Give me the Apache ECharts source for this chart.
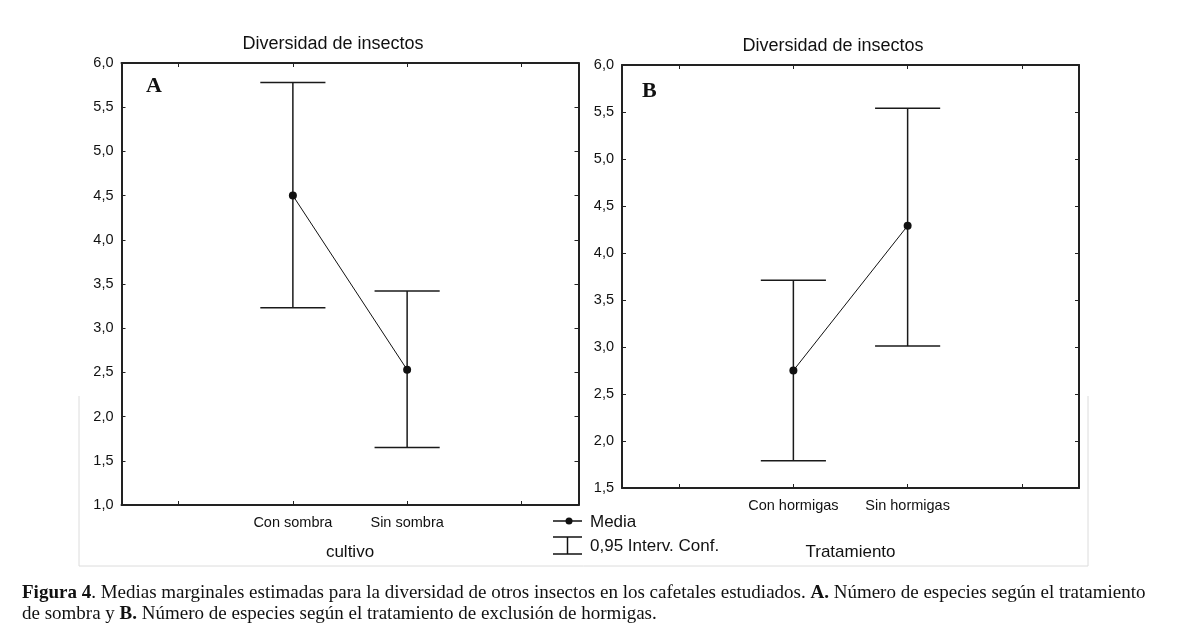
<!DOCTYPE html>
<html>
<head>
<meta charset="utf-8">
<script src="https://cdn.jsdelivr.net/npm/echarts@6/dist/echarts.min.js"></script>
<style>
html,body{margin:0;padding:0;background:#fff;}
#chart{width:1200px;height:630px;}
</style>
</head>
<body>
<div id="chart"></div>
<script>
// ---- data ----
const catsA = ['', 'Con sombra', 'Sin sombra', ''];
const meanA = ['-', 4.5, 2.53, '-'];
const lowA = [3.23, 1.65];
const highA = [5.78, 3.42];

const catsB = ['', 'Con hormigas', 'Sin hormigas', ''];
const meanB = ['-', 2.75, 4.29, '-'];
const lowB = [1.79, 3.01];
const highB = [3.71, 5.54];

const panelTitle = 'Diversidad de insectos';
const xNameA = 'cultivo';
const xNameB = 'Tratamiento';
const legendMean = 'Media';
const legendCI = '0,95 Interv. Conf.';
const caption1 = '{b|Figura 4}. Medias marginales estimadas para la diversidad de otros insectos en los cafetales estudiados. {b|A.} Número de especies según el tratamiento';
const caption2 = 'de sombra y {b|B.} Número de especies según el tratamiento de exclusión de hormigas.';

// ---- helpers ----
const SANS = "'Liberation Sans', Arial, sans-serif";
const SERIF = "'Liberation Serif', 'Times New Roman', serif";
const AX = '#222';
const TXT = '#111';
const fmt = v => v.toFixed(1).replace('.', ',');

function errData(low, high) {
  return low.map((l, i) => [i + 1, l, high[i]]);
}
function renderErr(params, api) {
  const x = api.value(0);
  const lo = api.coord([x, api.value(1)]);
  const hi = api.coord([x, api.value(2)]);
  const half = api.size([1, 0])[0] * 0.285;
  const st = { stroke: '#1a1a1a', lineWidth: 1.5 };
  return {
    type: 'group',
    children: [
      { type: 'line', shape: { x1: hi[0], y1: hi[1], x2: lo[0], y2: lo[1] }, style: st },
      { type: 'line', shape: { x1: hi[0] - half, y1: hi[1], x2: hi[0] + half, y2: hi[1] }, style: st },
      { type: 'line', shape: { x1: lo[0] - half, y1: lo[1], x2: lo[0] + half, y2: lo[1] }, style: st }
    ]
  };
}
function xAxes(cats, gi, name, gap) {
  return [
    {
      type: 'category', gridIndex: gi, data: cats, position: 'bottom',
      axisLine: { show: true, onZero: false, lineStyle: { color: AX, width: 2 } },
      axisTick: { show: true, inside: true, alignWithLabel: true, interval: 0, length: 4, lineStyle: { color: AX } },
      axisLabel: { color: TXT, fontFamily: SANS, fontSize: 14.5, margin: 10, interval: 0, hideOverlap: false },
      name: name, nameLocation: 'middle', nameGap: gap,
      nameTextStyle: { color: TXT, fontFamily: SANS, fontSize: 17 },
      splitLine: { show: false }
    },
    {
      type: 'category', gridIndex: gi, data: cats, position: 'top',
      axisLine: { show: true, onZero: false, lineStyle: { color: AX, width: 2 } },
      axisTick: { show: true, inside: true, alignWithLabel: true, interval: 0, length: 4, lineStyle: { color: AX } },
      axisLabel: { show: false }, splitLine: { show: false }
    }
  ];
}
function yAxes(gi, min, max) {
  return [
    {
      type: 'value', gridIndex: gi, min: min, max: max, interval: 0.5, position: 'left',
      axisLine: { show: true, lineStyle: { color: AX, width: 2 } },
      axisTick: { show: true, inside: true, length: 4, lineStyle: { color: AX } },
      axisLabel: { color: TXT, fontFamily: SANS, fontSize: 14.5, margin: 8, formatter: fmt },
      splitLine: { show: false }
    },
    {
      type: 'value', gridIndex: gi, min: min, max: max, interval: 0.5, position: 'right',
      axisLine: { show: true, lineStyle: { color: AX, width: 2 } },
      axisTick: { show: true, inside: true, length: 4, lineStyle: { color: AX } },
      axisLabel: { show: false }, splitLine: { show: false }
    }
  ];
}

const chart = echarts.init(document.getElementById('chart'));
const option = {
  backgroundColor: '#fff',
  animation: false,
  grid: [
    { left: 121.5, top: 63, width: 457, height: 442 },
    { left: 622, top: 65, width: 457, height: 423 }
  ],
  xAxis: [...xAxes(catsA, 0, xNameA, 39), ...xAxes(catsB, 1, xNameB, 56)],
  yAxis: [...yAxes(0, 1, 6), ...yAxes(1, 1.5, 6)],
  series: [
    { type: 'custom', xAxisIndex: 0, yAxisIndex: 0, data: errData(lowA, highA), renderItem: renderErr, encode: { x: 0, y: [1, 2] }, z: 2 },
    { type: 'line', xAxisIndex: 0, yAxisIndex: 0, data: meanA, symbol: 'circle', symbolSize: 8,
      itemStyle: { color: '#111' }, lineStyle: { color: '#111', width: 1 }, z: 3 },
    { type: 'custom', xAxisIndex: 2, yAxisIndex: 2, data: errData(lowB, highB), renderItem: renderErr, encode: { x: 0, y: [1, 2] }, z: 2 },
    { type: 'line', xAxisIndex: 2, yAxisIndex: 2, data: meanB, symbol: 'circle', symbolSize: 8,
      itemStyle: { color: '#111' }, lineStyle: { color: '#111', width: 1 }, z: 3 }
  ],
  graphic: [
    // faint scan frame
    { type: 'polyline', shape: { points: [[79, 396], [79, 566], [1088, 566], [1088, 396]] }, style: { stroke: '#dcdcdc', lineWidth: 1, fill: null }, silent: true },
    // titles
    { type: 'text', x: 333, y: 44, style: { text: panelTitle, font: '18px ' + SANS, fill: TXT, align: 'center', verticalAlign: 'middle' } },
    { type: 'text', x: 833, y: 46, style: { text: panelTitle, font: '18px ' + SANS, fill: TXT, align: 'center', verticalAlign: 'middle' } },
    // panel letters
    { type: 'text', x: 146, y: 86, style: { text: 'A', font: 'bold 22px ' + SERIF, fill: '#111', align: 'left', verticalAlign: 'middle' } },
    { type: 'text', x: 642, y: 91, style: { text: 'B', font: 'bold 22px ' + SERIF, fill: '#111', align: 'left', verticalAlign: 'middle' } },
    // legend
    { type: 'line', shape: { x1: 553, y1: 521, x2: 582, y2: 521 }, style: { stroke: '#111', lineWidth: 1.5 } },
    { type: 'circle', shape: { cx: 569, cy: 521, r: 3.5 }, style: { fill: '#111' } },
    { type: 'text', x: 590, y: 522, style: { text: legendMean, font: '17px ' + SANS, fill: TXT, verticalAlign: 'middle' } },
    { type: 'line', shape: { x1: 553, y1: 537, x2: 582, y2: 537 }, style: { stroke: '#111', lineWidth: 1.5 } },
    { type: 'line', shape: { x1: 567.5, y1: 537, x2: 567.5, y2: 554 }, style: { stroke: '#111', lineWidth: 1.5 } },
    { type: 'line', shape: { x1: 553, y1: 554, x2: 582, y2: 554 }, style: { stroke: '#111', lineWidth: 1.5 } },
    { type: 'text', x: 590, y: 546, style: { text: legendCI, font: '17px ' + SANS, fill: TXT, verticalAlign: 'middle' } },
    // caption
    { type: 'text', x: 22, y: 593, style: { text: caption1, font: '19px ' + SERIF, fill: '#111', verticalAlign: 'middle',
        rich: { b: { font: 'bold 19px ' + SERIF, fill: '#111' } } } },
    { type: 'text', x: 22, y: 614, style: { text: caption2, font: '19px ' + SERIF, fill: '#111', verticalAlign: 'middle',
        rich: { b: { font: 'bold 19px ' + SERIF, fill: '#111' } } } }
  ]
};
chart.setOption(option);
</script>
</body>
</html>
